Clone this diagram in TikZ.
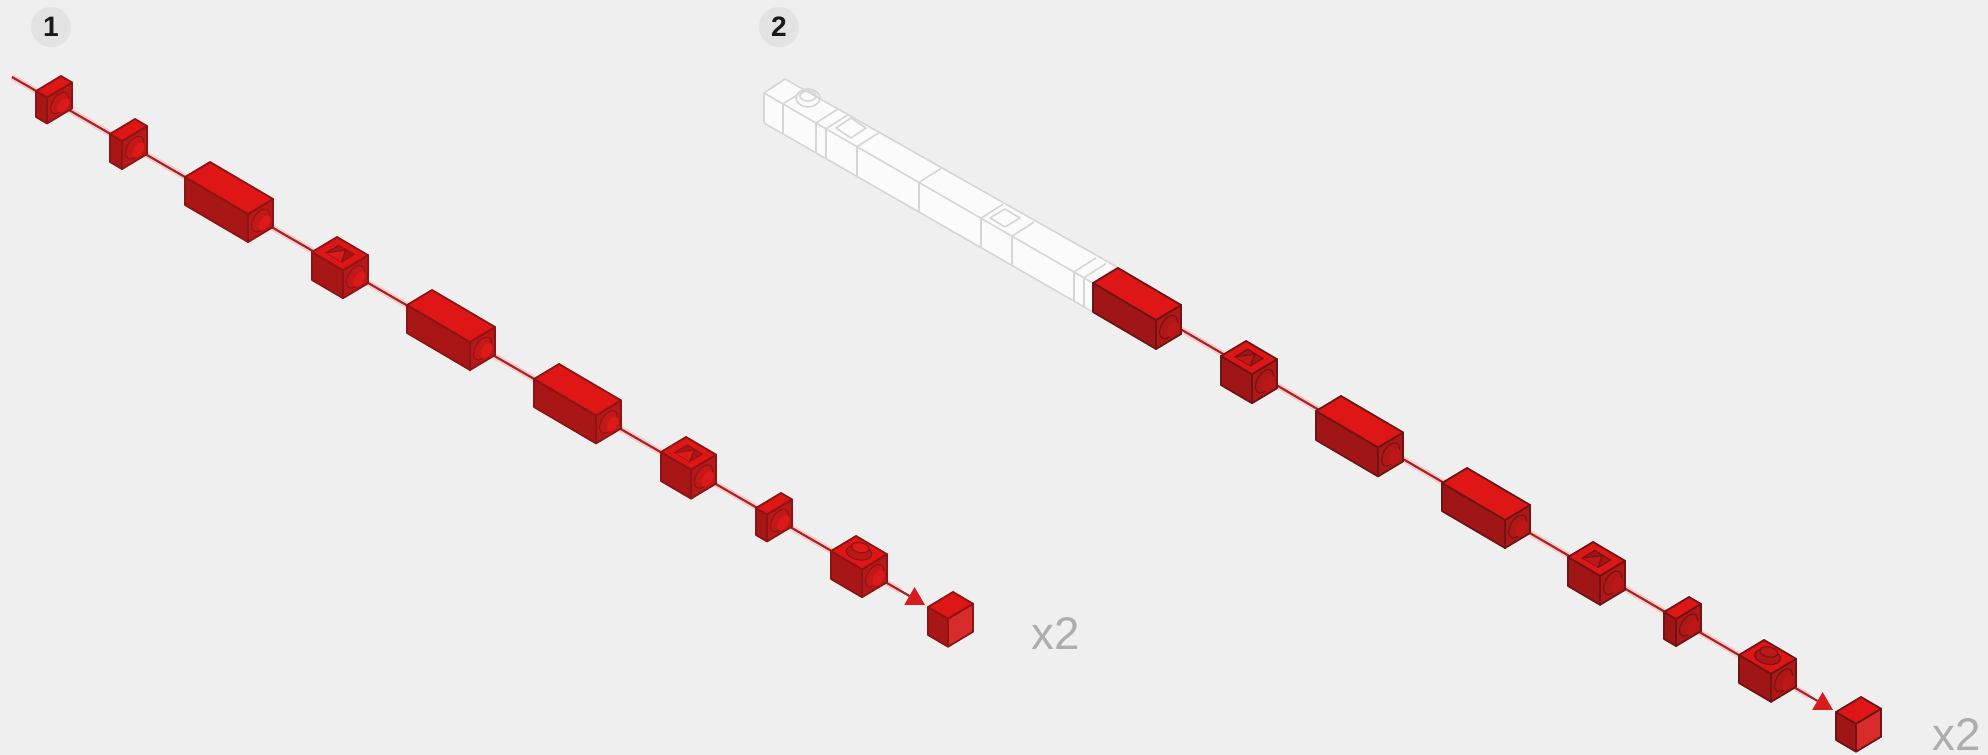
\documentclass[tikz,border=0pt]{standalone}
\usepackage{fontspec}
\setmainfont{Liberation Sans}
\usetikzlibrary{arrows.meta}
\definecolor{bgc}{HTML}{EFEFEF}
\definecolor{ftop}{HTML}{DF1616}
\definecolor{fleft}{HTML}{A81616}
\definecolor{fright}{HTML}{B91818}
\definecolor{fedge}{HTML}{8C1414}
\definecolor{fstud}{HTML}{DC1A1A}
\definecolor{fring}{HTML}{C41818}
\definecolor{fcube}{HTML}{D82C2C}
\definecolor{ghost}{HTML}{D6D6D6}
\definecolor{ghostfill}{HTML}{FBFBFB}
\definecolor{tipred}{HTML}{D81C1C}
\def\uu{0.28453pt}
\tikzset{
  brickface/.style={draw=fedge,line width=0.5pt,line join=round},
  detail/.style={draw=fedge,line width=0.3pt},
  ghostline/.style={draw=ghost,line width=0.45pt,line join=round},
  halo/.style={draw=red!22!white,line width=1.7pt},
  core/.style={draw=red!55!black!85!white,line width=0.6pt},
  badge/.style={circle,fill=black!11,minimum size=0.4cm,inner sep=0pt,font=\fontsize{8}{8}\selectfont\bfseries,text=black!90},
  timeslabel/.style={anchor=base west,inner sep=0pt,text=black!32,font=\fontsize{13}{13}\selectfont},
}
\newcommand{\topnone}{}
\newcommand{\tophole}{%
  \fill[fleft,detail] (.25,.25,0) -- (.25,.75,0) -- (.75,.75,0) -- (.75,.25,0) -- cycle;
  \fill[fstud] (.25,.25,0) -- (.75,.25,0) -- (.5,.72,0) -- cycle;
  \draw[detail] (.25,.25,0) -- (.5,.72,0) -- (.75,.25,0);
}
\newcommand{\topstud}{%
  \filldraw[fill=fright,detail] (.5,.5) circle[radius=.32];
  \filldraw[fill=fstud,detail] (.5,.55) ++(0pt,1.2pt) circle[radius=.22];
}
\newcommand{\brick}[5]{%
  \begin{scope}[shift={(#1,#2)},
      x={({#3*\uu},{-#3*.587*\uu})},y={({25*\uu},{15*\uu})},z={(0pt,{-#4*\uu})}]
    \filldraw[fill=fleft,brickface] (0,0,0) -- (1,0,0) -- (1,0,1) -- (0,0,1) -- cycle;
    \filldraw[fill=fright,brickface] (1,0,0) -- (1,1,0) -- (1,1,1) -- (1,0,1) -- cycle;
    \filldraw[fill=ftop,brickface] (0,0,0) -- (1,0,0) -- (1,1,0) -- (0,1,0) -- cycle;
    #5
    \begin{scope}[shift={(1,.5,.5)},x={({25*\uu},{15*\uu})},y={(0pt,{-#4*\uu})}]
      \filldraw[fill=fring,detail] (0,0) circle[radius=.36];
      \fill[fstud] (0,0) ++({4*\uu},{-2.3*\uu}) circle[radius=.24];
    \end{scope}
  \end{scope}%
}
\newcommand{\cubeblock}[2]{%
  \begin{scope}[shift={(#1,#2)},
      x={({20*\uu},{-11.7*\uu})},y={({25*\uu},{15*\uu})},z={(0pt,{-28*\uu})}]
    \filldraw[fill=fleft,brickface] (0,0,0) -- (1,0,0) -- (1,0,1) -- (0,0,1) -- cycle;
    \filldraw[fill=fcube,brickface] (1,0,0) -- (1,1,0) -- (1,1,1) -- (1,0,1) -- cycle;
    \filldraw[fill=ftop,brickface] (0,0,0) -- (1,0,0) -- (1,1,0) -- (0,1,0) -- cycle;
  \end{scope}%
}
\begin{document}
\begin{tikzpicture}[x=0.01cm,y=-0.01cm]
\useasboundingbox (0,0) rectangle (1988,755);
\fill[bgc] (0,0) rectangle (1988,755);
\node[badge] (badgeA) at (51,27) {1};
\node[badge] (badgeB) at (779,27) {2};
\node[timeslabel] (timesA) at (1031,649) {x2};
\node[timeslabel] (timesB) at (1932,750) {x2};

% pane 1 axis
\coordinate (aS) at (12,77);
\coordinate (aE) at (925,605);
\draw[halo,shorten >=8pt] (aS) -- (aE);
\draw[core,-{Triangle[length=0.18cm,width=0.2cm,fill=tipred,color=tipred]}] (aS) -- (aE);
\brick{36}{91}{11}{26}{\topnone}
\brick{110}{134}{12}{28}{\topnone}
\brick{185}{177}{63}{28}{\topnone}
\brick{312}{252}{31}{28}{\tophole}
\brick{407}{305}{63}{28}{\topnone}
\brick{534}{379}{62}{28}{\topnone}
\brick{661}{452}{30}{29}{\tophole}
\brick{756}{508}{11}{27}{\topnone}
\brick{831}{551}{31}{28}{\topstud}
\cubeblock{928}{607}

% pane 2 ghost bar
\filldraw[fill=ghostfill,ghostline] (764,93) -- (785,79) -- (1117,267) -- (1093,283) -- (1093,312) -- (764,123) -- cycle;
\draw[ghostline] (764,93) -- (1093,283);
\foreach \X in {783,816,826,857,919,981,1012,1074,1084}{
  \pgfmathsetmacro{\Y}{93+(\X-764)*.577}
  \draw[ghostline] (\X,\Y) -- ++(0,30);
  \draw[ghostline] (\X,\Y) -- ++(22,-14);
}
\draw[ghostline] (808,98) ellipse [x radius=12,y radius=9];
\draw[ghostline] (808,96) ellipse [x radius=8,y radius=5];
\draw[ghostline] (836,128) -- (851,118) -- (866,128) -- (851,138) -- cycle -- (851,118);
\draw[ghostline] (990,218) -- (1005,209) -- (1020,218) -- (1005,227) -- cycle -- (1005,209);

% pane 2 axis
\coordinate (bS) at (1170,323);
\coordinate (bE) at (1833,710);
\draw[halo,shorten >=8pt] (bS) -- (bE);
\draw[core,-{Triangle[length=0.18cm,width=0.2cm,fill=tipred,color=tipred]}] (bS) -- (bE);
\begin{scope}
  \definecolor{fedge}{HTML}{6E1414}
  \definecolor{fring}{HTML}{B01717}
  \definecolor{fstud}{HTML}{BC1818}
  \definecolor{fleft}{HTML}{A01616}
  \definecolor{fright}{HTML}{B01717}
  \brick{1093}{283}{63}{29}{\topnone}
  \brick{1221}{356}{31}{29}{\tophole}
  \brick{1316}{411}{62}{29}{\topnone}
  \brick{1442}{483}{63}{28}{\topnone}
  \brick{1568}{557}{32}{29}{\tophole}
  \brick{1664}{612}{12}{27}{\topnone}
  \brick{1739}{655}{32}{28}{\topstud}
  \cubeblock{1836}{712}
\end{scope}
\end{tikzpicture}
\end{document}
